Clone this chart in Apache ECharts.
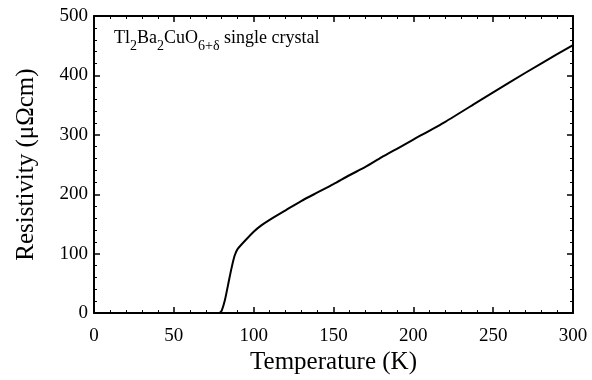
<!DOCTYPE html>
<html>
<head>
<meta charset="utf-8">
<script src="https://cdn.jsdelivr.net/npm/echarts@6/dist/echarts.min.js"></script>
<style>
  html, body { margin: 0; padding: 0; background: #fff; }
  #chart { width: 592px; height: 380px; }
</style>
</head>
<body>
<div id="chart"></div>
<script>
// values
const temperature = [0, 78, 79, 80, 82, 84, 86, 88, 90, 95, 100, 105, 110, 120, 130, 140, 150, 160, 170, 180, 190, 200, 220, 240, 260, 280, 300];
const resistivity = [0, 0, 1, 4, 22, 48, 74, 96, 108, 123, 137, 148, 157, 173, 189, 203, 217, 232, 246, 262, 277, 292, 322, 355, 388, 420, 451];
const xTicks = [0, 50, 100, 150, 200, 250, 300];
const yTicks = [0, 100, 200, 300, 400, 500];

const serif = '"Liberation Serif", "DejaVu Serif", serif';
const chart = echarts.init(document.getElementById('chart'));

const points = temperature.map((t, i) => [t, resistivity[i]]);

// shared axis look: inside ticks on all four sides
const axisBase = {
    type: 'value',
    axisLine: { show: true, onZero: false, lineStyle: { color: '#000', width: 2 } },
    axisTick: { show: true, inside: true, length: 6, lineStyle: { color: '#000', width: 1.5 } },
    minorTick: { show: true, splitNumber: 5, length: 3, lineStyle: { color: '#000', width: 1 } },
    splitLine: { show: false }
};

const option = {
    animation: false,
    backgroundColor: '#fff',
    grid: { left: 94, right: 19, top: 16, bottom: 66 },
    xAxis: [
        Object.assign({}, axisBase, {
            position: 'bottom',
            min: xTicks[0], max: xTicks[xTicks.length - 1], interval: 50,
            name: 'Temperature (K)',
            nameLocation: 'middle',
            nameGap: 36,
            nameTextStyle: { fontFamily: serif, fontSize: 25, color: '#000' },
            axisLabel: { fontFamily: serif, fontSize: 19, color: '#000', margin: 13 }
        }),
        Object.assign({}, axisBase, {
            position: 'top',
            min: xTicks[0], max: xTicks[xTicks.length - 1], interval: 50,
            axisLabel: { show: false }
        })
    ],
    yAxis: [
        Object.assign({}, axisBase, {
            position: 'left',
            min: yTicks[0], max: yTicks[yTicks.length - 1], interval: 100,
            name: 'Resistivity (μΩcm)',
            nameLocation: 'middle',
            nameGap: 55,
            nameTextStyle: { fontFamily: serif, fontSize: 25, color: '#000' },
            axisLabel: { fontFamily: serif, fontSize: 19, color: '#000', margin: 6 }
        }),
        Object.assign({}, axisBase, {
            position: 'right',
            min: yTicks[0], max: yTicks[yTicks.length - 1], interval: 100,
            axisLabel: { show: false }
        })
    ],
    graphic: [{
        type: 'text',
        left: 114,
        top: 29,
        style: {
            text: '{m|Tl}{s|2}{m|Ba}{s|2}{m|CuO}{s|6+δ}{m| single crystal}',
            rich: {
                m: { fontFamily: serif, fontSize: 18, fill: '#000', lineHeight: 22, verticalAlign: 'bottom' },
                s: { fontFamily: serif, fontSize: 14, fill: '#000', lineHeight: 14, verticalAlign: 'bottom', padding: [0, 0, -6, 0] }
            }
        }
    }],
    series: [{
        type: 'line',
        data: points,
        showSymbol: false,
        smooth: 0.2,
        lineStyle: { color: '#000', width: 2 }
    }]
};

chart.setOption(option);
</script>
</body>
</html>
